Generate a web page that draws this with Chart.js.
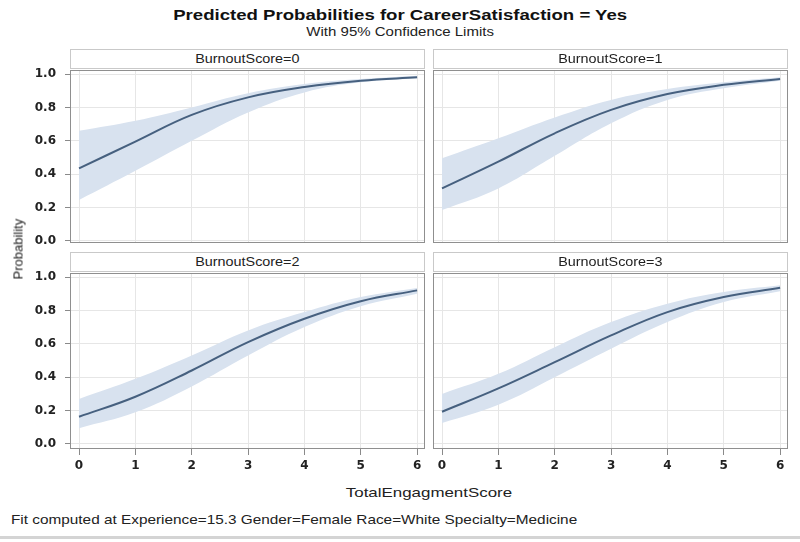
<!DOCTYPE html>
<html>
<head>
<meta charset="utf-8">
<script src="https://cdn.jsdelivr.net/npm/chart.js@4/dist/chart.umd.min.js"></script>
<style>
  body { margin: 0; background: #fff; }
  #page { position: relative; width: 800px; height: 542px; overflow: hidden;
          font-family: "Liberation Sans", Arial, sans-serif; color: #222; }
  .t { position: absolute; white-space: nowrap; }
  .wide { display: inline-block; transform: scaleX(1.15); }
  .strip { position: absolute; height: 20px; box-sizing: border-box; border: 1px solid #c9c9c9;
           background: #fff; text-align: center; font-size: 12.5px; line-height: 18px; color: #222; }
  canvas { position: absolute; }
</style>
</head>
<body>
<div id="page">
  <div class="t" style="left:0;width:800px;top:6px;text-align:center;font-size:15.5px;font-weight:bold;color:#111;">
    <span class="wide" style="transform:scaleX(1.2)">Predicted Probabilities for CareerSatisfaction = Yes</span></div>
  <div class="t" style="left:0;width:800px;top:25px;text-align:center;font-size:12.5px;color:#222;">
    <span class="wide" style="transform:scaleX(1.2)">With 95% Confidence Limits</span></div>

  <canvas id="c0"></canvas>
  <canvas id="c1"></canvas>
  <canvas id="c2"></canvas>
  <canvas id="c3"></canvas>

  <div class="t" style="left:-12px;top:242px;width:60px;text-align:center;font-size:13px;transform:rotate(-90deg);">Probability</div>
  <div class="t" style="left:70px;width:718px;top:485px;text-align:center;font-size:13px;">
    <span class="wide" style="transform:scaleX(1.3)">TotalEngagmentScore</span></div>
  <div class="t" style="left:11px;top:512px;font-size:13px;">
    <span class="wide" style="transform-origin:left;transform:scaleX(1.18)">Fit computed at Experience=15.3 Gender=Female Race=White Specialty=Medicine</span></div>
  <div style="position:absolute;left:0;top:536px;width:800px;height:3px;background:#d4d4d4;"></div>
</div>

<script>
// valeurs
const panelTitles = ['BurnoutScore=0', 'BurnoutScore=1', 'BurnoutScore=2', 'BurnoutScore=3'];
const engagement = [0, 1, 2, 3, 4, 5, 6];
const xTickLabels = ['0', '1', '2', '3', '4', '5', '6'];
const yTickValues = [0, 0.2, 0.4, 0.6, 0.8, 1.0];

const fit0   = [0.435, 0.595, 0.755, 0.86, 0.922, 0.96, 0.98];
const upper0 = [0.66, 0.72, 0.80, 0.885, 0.94, 0.97, 0.99];
const lower0 = [0.245, 0.42, 0.60, 0.77, 0.89, 0.95, 0.975];

const fit1   = [0.315, 0.475, 0.645, 0.785, 0.88, 0.935, 0.97];
const upper1 = [0.495, 0.615, 0.74, 0.845, 0.91, 0.95, 0.98];
const lower1 = [0.185, 0.315, 0.51, 0.705, 0.845, 0.915, 0.96];

const fit2   = [0.163, 0.283, 0.44, 0.61, 0.75, 0.855, 0.92];
const upper2 = [0.27, 0.39, 0.53, 0.68, 0.79, 0.88, 0.935];
const lower2 = [0.095, 0.19, 0.345, 0.53, 0.70, 0.825, 0.90];

const fit3   = [0.193, 0.333, 0.49, 0.65, 0.79, 0.88, 0.935];
const upper3 = [0.30, 0.42, 0.58, 0.73, 0.84, 0.91, 0.95];
const lower3 = [0.125, 0.235, 0.40, 0.57, 0.73, 0.85, 0.915];

const series = [
  { fit: fit0, upper: upper0, lower: lower0 },
  { fit: fit1, upper: upper1, lower: lower1 },
  { fit: fit2, upper: upper2, lower: lower2 },
  { fit: fit3, upper: upper3, lower: lower3 }
];

// mise en page des 4 panneaux (cadre du graphique)
const frames = [
  { left: 70,  top: 70,  width: 355, height: 173, yMin: -0.012, leftAxis: true,  bottomAxis: false },
  { left: 433, top: 70,  width: 355, height: 173, yMin: -0.012, leftAxis: false, bottomAxis: false },
  { left: 70,  top: 273, width: 355, height: 176, yMin: -0.03,  leftAxis: true,  bottomAxis: true },
  { left: 433, top: 273, width: 355, height: 176, yMin: -0.03,  leftAxis: false, bottomAxis: true }
];

const BAND = '#d8e2ef';
const LINE = '#46607f';
const GRID = '#e6e6e6';
const TICK = '#8a8a8a';
const Y_AXIS_W = 45;
const X_AXIS_H = 30;
const PAD_TOP = 8;

// pas de marge auto pour les libellés qui dépassent
function noPadding(sc) {
  sc.paddingTop = 0;
  sc.paddingBottom = 0;
  sc.paddingLeft = 0;
  sc.paddingRight = 0;
}

// dessine le cadre autour de la zone du graphique
const framePlugin = {
  id: 'frame',
  afterDraw(chart) {
    const a = chart.chartArea;
    const ctx = chart.ctx;
    ctx.save();
    ctx.strokeStyle = '#8f8f8f';
    ctx.lineWidth = 1;
    ctx.strokeRect(a.left + 0.5, a.top + 0.5, a.right - a.left - 1, a.bottom - a.top - 1);
    ctx.restore();
  }
};

const page = document.getElementById('page');

frames.forEach((f, i) => {
  const canvas = document.getElementById('c' + i);
  const padLeft = f.leftAxis ? 0 : 1;
  const padBottom = f.bottomAxis ? 0 : 7;
  const yW = f.leftAxis ? Y_AXIS_W : 0;
  const xH = f.bottomAxis ? X_AXIS_H : 0;
  canvas.width = yW + padLeft + f.width + 2;
  canvas.height = PAD_TOP + f.height + xH + padBottom;
  canvas.style.left = (f.left - yW - padLeft) + 'px';
  canvas.style.top = (f.top - PAD_TOP) + 'px';

  // bandeau du titre de panneau
  const strip = document.createElement('div');
  strip.className = 'strip';
  strip.style.left = f.left + 'px';
  strip.style.width = f.width + 'px';
  strip.style.top = (f.top - 21) + 'px';
  strip.innerHTML = '<span class="wide">' + panelTitles[i] + '</span>';
  page.appendChild(strip);

  const s = series[i];
  const pts = arr => engagement.map((x, k) => ({ x: x, y: arr[k] }));

  new Chart(canvas, {
    type: 'line',
    data: {
      datasets: [
        // la courbe en premier pour qu'elle soit dessinée au-dessus de la bande
        { data: pts(s.fit), borderColor: LINE, borderWidth: 2, pointRadius: 0, fill: false, tension: 0.4 },
        { data: pts(s.upper), borderWidth: 0, pointRadius: 0, backgroundColor: BAND, fill: '+1', tension: 0.4 },
        { data: pts(s.lower), borderWidth: 0, pointRadius: 0, fill: false, tension: 0.4 }
      ]
    },
    options: {
      responsive: false,
      animation: false,
      devicePixelRatio: 1,
      layout: { padding: { top: PAD_TOP, right: 2, left: padLeft, bottom: padBottom } },
      plugins: { legend: { display: false }, tooltip: { enabled: false } },
      scales: {
        x: {
          type: 'linear', min: -0.16, max: 6.14,
          afterBuildTicks: sc => { sc.ticks = engagement.map(v => ({ value: v })); },
          afterFit: sc => { sc.height = xH; noPadding(sc); },
          border: { display: false },
          grid: { color: GRID, tickColor: TICK, drawTicks: f.bottomAxis, tickLength: 6 },
          ticks: {
            display: f.bottomAxis, padding: 4, color: '#222',
            font: { family: 'DejaVu Sans', size: 12, weight: 'bold' },
            callback: (v, k) => xTickLabels[k]
          }
        },
        y: {
          type: 'linear', min: f.yMin, max: 1.024,
          afterBuildTicks: sc => { sc.ticks = yTickValues.map(v => ({ value: v })); },
          afterFit: sc => { sc.width = yW; noPadding(sc); },
          border: { display: false },
          grid: { color: GRID, tickColor: TICK, drawTicks: f.leftAxis, tickLength: 5 },
          ticks: {
            display: f.leftAxis, padding: 9, color: '#222',
            font: { family: 'DejaVu Sans', size: 12, weight: 'bold' },
            callback: v => v.toFixed(1)
          }
        }
      }
    },
    plugins: [framePlugin]
  });
});
</script>
</body>
</html>
